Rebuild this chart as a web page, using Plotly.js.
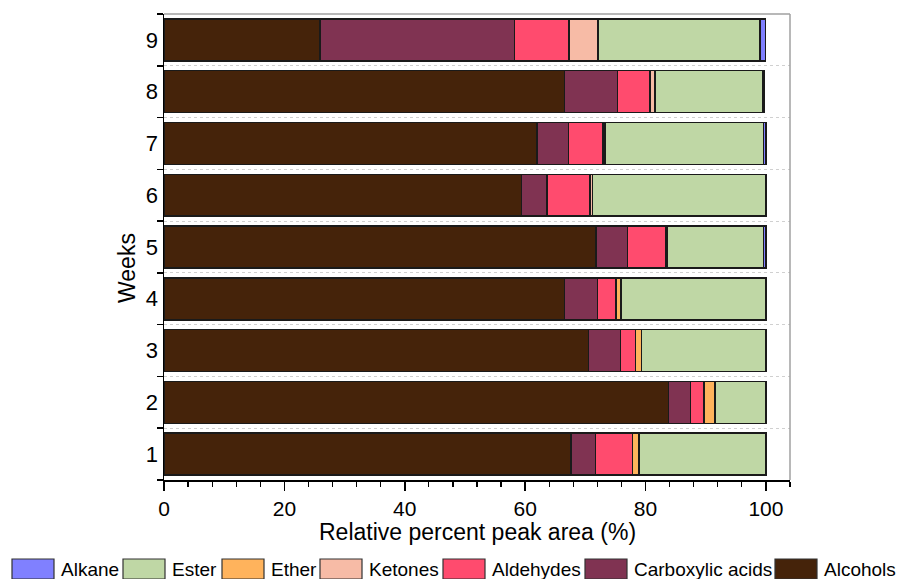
<!DOCTYPE html>
<html>
<head>
<meta charset="utf-8">
<script src="https://cdn.plot.ly/plotly-3.0.1.min.js"></script>
<style>html,body{margin:0;padding:0;background:#fff;}#chart{width:897px;height:579px;}</style>
</head>
<body>
<div id="chart"></div>
<script>
// Categories (weeks)
var weeks = ['1','2','3','4','5','6','7','8','9'];
// Series values (% relative peak area), stacked left to right
var alcohols   = [67.6, 83.8, 70.5, 66.5, 71.8, 59.4, 62.0, 66.5, 25.9];
var carboxylic = [4.1, 3.7, 5.3, 5.5, 5.2, 4.2, 5.2, 8.8, 32.3];
var aldehydes  = [6.1, 2.2, 2.5, 3.1, 6.3, 7.2, 5.7, 5.4, 9.1];
var ketones    = [0, 0, 0, 0, 0, 0.4, 0, 0.9, 4.8];
var ether      = [1.1, 1.8, 1.0, 0.8, 0.3, 0, 0.4, 0, 0];
var ester      = [21.1, 8.5, 20.7, 24.1, 16.0, 28.8, 26.3, 17.9, 26.9];
var alkane     = [0, 0, 0, 0, 0.4, 0, 0.4, 0.3, 0.9];
// Series names
var names = ['Alcohols','Carboxylic acids','Aldehydes','Ketones','Ether','Ester','Alkane'];
var series = [alcohols, carboxylic, aldehydes, ketones, ether, ester, alkane];
// Axis ticks
var xTicks = [0, 20, 40, 60, 80, 100];
var xTitle = 'Relative percent peak area (%)';
var yTitle = 'Weeks';

// Styles
var colors = ['#45230a','#803352','#ff4b6e','#f7bba6','#ffb35c','#bfd7a5','#8080ff'];
var font = 'Liberation Sans, Arial, sans-serif';
var W = 897, H = 579, ML = 164, MR = 107, MT = 14, MB = 99;
var PW = W - ML - MR, PH = H - MT - MB;
function px2x(px){ return (px - ML) / PW; }
function py2y(py){ return (H - MB - py) / PH; }

var traces = series.map(function(vals, i){
  return {
    type: 'bar', orientation: 'h',
    name: names[i], x: vals, y: weeks,
    marker: {color: colors[i], line: {color: '#1a1a1a', width: 1.5}},
    hoverinfo: 'x+name'
  };
});

// Custom legend (reversed order), left pixel positions of swatches
var legendLeft = [12, 123, 222, 320, 443, 585, 775];
var shapes = [
  {type: 'line', xref: 'paper', yref: 'paper', x0: 0, x1: 1, y0: 1, y1: 1, line: {color: '#a0a0a0', width: 1.5}},
  {type: 'line', xref: 'paper', yref: 'paper', x0: 1, x1: 1, y0: 0, y1: 1, line: {color: '#a0a0a0', width: 1.5}}
];
var annotations = [
  {xref: 'paper', yref: 'paper', x: 0.5, y: py2y(532), xanchor: 'center', yanchor: 'middle',
   text: xTitle, showarrow: false, font: {size: 23, family: font, color: '#000'}},
  {xref: 'paper', yref: 'paper', x: px2x(127), y: py2y(268), xanchor: 'center', yanchor: 'middle',
   text: yTitle, textangle: -90, showarrow: false, font: {size: 23, family: font, color: '#000'}}
];
for (var k = 0; k < names.length; k++) {
  var idx = names.length - 1 - k;
  var L = legendLeft[k];
  shapes.push({type: 'rect', xref: 'paper', yref: 'paper',
    x0: px2x(L), x1: px2x(L + 42), y0: py2y(559), y1: py2y(579),
    fillcolor: colors[idx], line: {color: '#333', width: 1.2}});
  annotations.push({xref: 'paper', yref: 'paper', x: px2x(L + 47), y: py2y(569),
    xanchor: 'left', yanchor: 'middle', text: names[idx], showarrow: false,
    font: {size: 19, family: font, color: '#000'}});
}

var layout = {
  width: W, height: H,
  margin: {l: ML, r: MR, t: MT, b: MB},
  paper_bgcolor: '#fff', plot_bgcolor: '#fff',
  barmode: 'stack', bargap: 0.19,
  font: {family: font, color: '#000', size: 20},
  showlegend: false,
  xaxis: {
    range: [0, 104], tickvals: xTicks, ticktext: xTicks.map(String),
    ticks: 'outside', ticklen: 9, tickwidth: 1.5, tickcolor: '#000',
    minor: {dtick: 4, tick0: 0, ticks: 'outside', ticklen: 5, tickwidth: 1.2, tickcolor: '#000', showgrid: false},
    showline: true, linecolor: '#000', linewidth: 1.5,
    showgrid: false, zeroline: false, automargin: false,
    tickfont: {size: 21, family: font}
  },
  yaxis: {
    type: 'category', categoryorder: 'array', categoryarray: weeks,
    range: [-0.5, 8.5],
    tickson: 'boundaries',
    ticks: 'outside', ticklen: 6, tickwidth: 1.5, tickcolor: '#000',
    showline: true, linecolor: '#000', linewidth: 1.5,
    showgrid: true, gridcolor: '#d0d0d0', griddash: 'dot', gridwidth: 1,
    zeroline: false, automargin: false,
    tickfont: {size: 22, family: font}
  },
  shapes: shapes,
  annotations: annotations
};

Plotly.newPlot('chart', traces, layout, {displayModeBar: false, staticPlot: true});
</script>
</body>
</html>
